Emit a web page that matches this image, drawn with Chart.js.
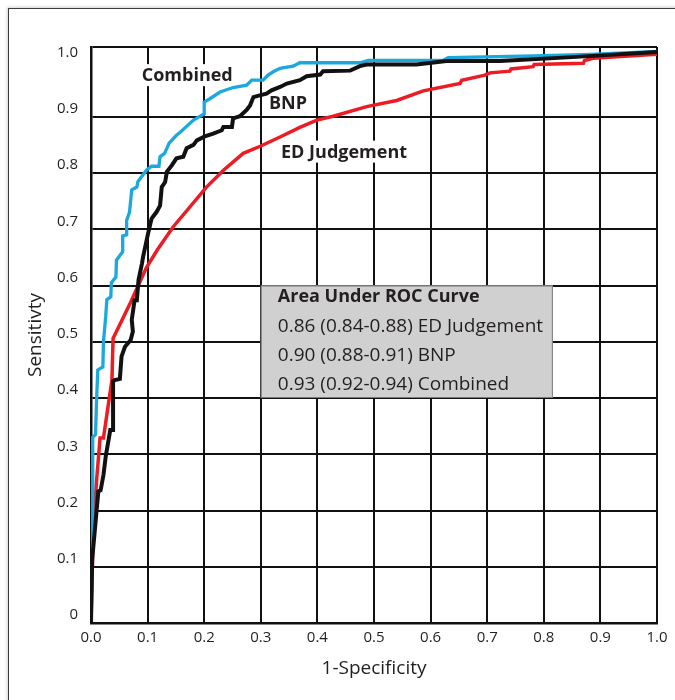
<!DOCTYPE html>
<html>
<head>
<meta charset="utf-8">
<script src="https://cdn.jsdelivr.net/npm/chart.js@4.4.1/dist/chart.umd.min.js"></script>
<style>
  html, body { margin: 0; padding: 0; background: #fff; }
  #wrap { position: relative; width: 675px; height: 700px; overflow: hidden; }
  #frame {
    position: absolute; left: 8px; top: 8px; width: 700px; height: 720px;
    border-left: 1px solid #3c3c3c; border-top: 1px solid #3c3c3c;
    box-shadow: -1px -1px 3px rgba(0,0,0,0.18);
  }
  #myChart { position: absolute; left: 0; top: 0; }
</style>
</head>
<body>
<div id="wrap">
  <div id="frame"></div>
  <canvas id="myChart" width="675" height="700"></canvas>
</div>
<script>
// tick values / labels
const xTickValues = [0, 0.1, 0.2, 0.3, 0.4, 0.5, 0.6, 0.7, 0.8, 0.9, 1.0]
const xTickLabels = ['0.0', '0.1', '0.2', '0.3', '0.4', '0.5', '0.6', '0.7', '0.8', '0.9', '1.0']
const yTickValues = [0, 0.1, 0.2, 0.3, 0.4, 0.5, 0.6, 0.7, 0.8, 0.9, 1.0]
const yTickLabels = ['0', '0.1', '0.2', '0.3', '0.4', '0.5', '0.6', '0.7', '0.8', '0.9', '1.0']
const yTop = 1.024

// Combined
const combinedFpr = [0, 0.002, 0.003, 0.008, 0.010, 0.012, 0.021, 0.022, 0.026, 0.028, 0.035, 0.036, 0.044, 0.045,
  0.056, 0.056, 0.063, 0.063, 0.068, 0.072, 0.081, 0.083, 0.098, 0.107, 0.120, 0.122, 0.130, 0.138, 0.151, 0.157,
  0.168, 0.181, 0.193, 0.200, 0.200, 0.210, 0.228, 0.251, 0.275, 0.284, 0.304, 0.313, 0.322, 0.334, 0.357, 0.369,
  0.475, 0.490, 0.622, 0.631, 0.781, 0.882, 1.0]
const combinedSens = [0, 0.15, 0.33, 0.335, 0.40, 0.45, 0.455, 0.50, 0.545, 0.575, 0.58, 0.605, 0.615, 0.645,
  0.66, 0.688, 0.69, 0.716, 0.73, 0.77, 0.775, 0.785, 0.805, 0.812, 0.812, 0.829, 0.835, 0.853, 0.867, 0.872,
  0.882, 0.894, 0.901, 0.905, 0.926, 0.932, 0.944, 0.952, 0.956, 0.965, 0.965, 0.974, 0.980, 0.986, 0.990, 0.996,
  0.996, 1.0, 1.0, 1.005, 1.008, 1.011, 1.016]

// BNP
const bnpFpr = [0, 0.002, 0.010, 0.013, 0.017, 0.022, 0.026, 0.034, 0.039, 0.039, 0.042, 0.051, 0.054, 0.060,
  0.070, 0.074, 0.072, 0.077, 0.081, 0.084, 0.090, 0.092, 0.101, 0.107, 0.116, 0.122, 0.125, 0.131, 0.134, 0.143,
  0.151, 0.163, 0.169, 0.181, 0.187, 0.201, 0.216, 0.231, 0.234, 0.249, 0.251, 0.263, 0.275, 0.281, 0.287, 0.298,
  0.310, 0.319, 0.334, 0.346, 0.369, 0.381, 0.405, 0.410, 0.458, 0.475, 0.487, 0.575, 0.628, 0.723, 0.850, 1.0]
const bnpSens = [0, 0.112, 0.201, 0.234, 0.236, 0.263, 0.296, 0.343, 0.343, 0.430, 0.432, 0.434, 0.474, 0.491,
  0.503, 0.518, 0.539, 0.574, 0.574, 0.61, 0.639, 0.651, 0.693, 0.719, 0.731, 0.742, 0.775, 0.784, 0.802, 0.814,
  0.826, 0.829, 0.844, 0.850, 0.858, 0.865, 0.870, 0.876, 0.882, 0.882, 0.897, 0.901, 0.912, 0.920, 0.935, 0.938,
  0.941, 0.947, 0.953, 0.959, 0.965, 0.972, 0.975, 0.981, 0.982, 0.990, 0.993, 0.993, 0.999, 0.999, 1.006, 1.015]

// ED Judgement
const edFpr = [0, 0.004, 0.010, 0.016, 0.022, 0.037, 0.039, 0.069, 0.098, 0.117, 0.145, 0.175, 0.204, 0.234,
  0.269, 0.300, 0.334, 0.369, 0.399, 0.428, 0.487, 0.540, 0.587, 0.652, 0.655, 0.696, 0.705, 0.740, 0.742, 0.781,
  0.783, 0.870, 0.872, 0.887, 1.0]
const edSens = [0, 0.166, 0.255, 0.329, 0.329, 0.432, 0.506, 0.568, 0.632, 0.663, 0.704, 0.740, 0.775, 0.805,
  0.835, 0.848, 0.864, 0.881, 0.894, 0.901, 0.918, 0.929, 0.946, 0.959, 0.965, 0.974, 0.978, 0.981, 0.985, 0.989,
  0.993, 0.995, 1.0, 1.004, 1.011]

const aucTitle = 'Area Under ROC Curve'
const aucLines = ['0.86 (0.84-0.88) ED Judgement', '0.90 (0.88-0.91) BNP', '0.93 (0.92-0.94) Combined']

function toPoints(xs, ys) {
  return xs.map((v, i) => ({ x: v, y: ys[i] }))
}

const FONT = '"Open Sans", "DejaVu Sans", sans-serif'
Chart.defaults.font.family = FONT
Chart.defaults.color = '#231f20'

const notes = {
  id: 'notes',
  beforeDatasetsDraw(chart) {
    const { ctx } = chart
    const x = chart.scales.x
    const y = chart.scales.y
    ctx.save()

    // curve names, white behind them
    const names = [
      { text: 'Combined', fx: 0.0896, fy: 0.974 },
      { text: 'BNP', fx: 0.3145, fy: 0.924 },
      { text: 'ED Judgement', fx: 0.3357, fy: 0.838 }
    ]
    ctx.font = 'bold 18px ' + FONT
    ctx.textBaseline = 'middle'
    ctx.textAlign = 'left'
    names.forEach(n => {
      const px = x.getPixelForValue(n.fx)
      const py = y.getPixelForValue(n.fy)
      const w = ctx.measureText(n.text).width
      ctx.fillStyle = '#fff'
      ctx.fillRect(px - 3, py - 11, w + 6, 22)
      ctx.fillStyle = '#231f20'
      ctx.fillText(n.text, px, py + 1)
    })

    // AUC box
    const bx = x.getPixelForValue(0.3)
    const bx2 = x.getPixelForValue(0.816)
    const by = y.getPixelForValue(0.6)
    const by2 = y.getPixelForValue(0.4)
    ctx.fillStyle = '#d0d0d0'
    ctx.fillRect(bx, by, bx2 - bx, by2 - by)
    ctx.strokeStyle = '#7a7a7a'
    ctx.lineWidth = 1
    ctx.strokeRect(bx + 0.5, by + 0.5, bx2 - bx - 1, by2 - by - 1)

    ctx.fillStyle = '#231f20'
    ctx.font = 'bold 18px ' + FONT
    ctx.fillText(aucTitle, bx + 17, by + 11)
    ctx.font = '19px ' + FONT
    aucLines.forEach((t, i) => {
      ctx.fillText(t, bx + 17, by + 41 + i * 29)
    })
    ctx.restore()
  }
}

let grafico

function dibujar() {
  const data = {
    datasets: [
      {
        label: 'BNP',
        data: toPoints(bnpFpr, bnpSens),
        borderColor: '#111111',
        borderWidth: 4
      },
      {
        label: 'Combined',
        data: toPoints(combinedFpr, combinedSens),
        borderColor: '#1ba8dc',
        borderWidth: 3.3
      },
      {
        label: 'ED Judgement',
        data: toPoints(edFpr, edSens),
        borderColor: '#ec1c24',
        borderWidth: 3.5
      }
    ]
  }
  data.datasets.forEach(d => {
    d.showLine = true
    d.pointRadius = 0
    d.tension = 0
    d.fill = false
    d.borderJoinStyle = 'miter'
    d.borderCapStyle = 'butt'
  })

  const config = {
    type: 'scatter',
    data: data,
    options: {
      responsive: false,
      animation: false,
      layout: { padding: { left: 0, top: 47, right: 18, bottom: 0 } },
      plugins: {
        legend: { display: false },
        tooltip: { enabled: false }
      },
      scales: {
        x: {
          type: 'linear',
          min: 0,
          max: 1,
          afterBuildTicks: s => { s.ticks = xTickValues.map(v => ({ value: v })) },
          afterFit: s => { s.height = 77 },
          ticks: {
            padding: 6,
            font: { size: 15 },
            color: '#231f20',
            maxRotation: 0,
            autoSkip: false,
            callback: (v, i) => xTickLabels[i]
          },
          grid: { color: '#111', lineWidth: 2, drawTicks: false },
          border: { display: true, color: '#111', width: 2.5 },
          title: {
            display: true,
            text: '1-Specificity',
            font: { size: 19 },
            color: '#231f20',
            padding: { top: 0, bottom: 20 }
          }
        },
        y: {
          type: 'linear',
          min: 0,
          max: yTop,
          afterBuildTicks: s => { s.ticks = yTickValues.concat([yTop]).map(v => ({ value: v })) },
          afterFit: s => { s.width = 91 },
          ticks: {
            padding: 13,
            labelOffset: -8,
            font: { size: 15 },
            color: '#231f20',
            autoSkip: false,
            callback: (v, i) => yTickLabels[i] ?? ''
          },
          grid: {
            color: c => (c.tick && c.tick.value === 1.0) ? 'rgba(0,0,0,0)' : '#111',
            lineWidth: 2,
            drawTicks: false
          },
          border: { display: true, color: '#111', width: 2.5 },
          title: {
            display: true,
            text: 'Sensitivty',
            font: { size: 19 },
            color: '#231f20',
            padding: { top: 24, bottom: 0 }
          }
        }
      }
    },
    plugins: [notes]
  }
  if (grafico != undefined) {
    grafico.destroy()
  }
  grafico = new Chart(document.getElementById('myChart'), config)
}

Promise.all([
  document.fonts.load('15px "Open Sans"'),
  document.fonts.load('bold 18px "Open Sans"')
]).then(dibujar, dibujar)
</script>
</body>
</html>
